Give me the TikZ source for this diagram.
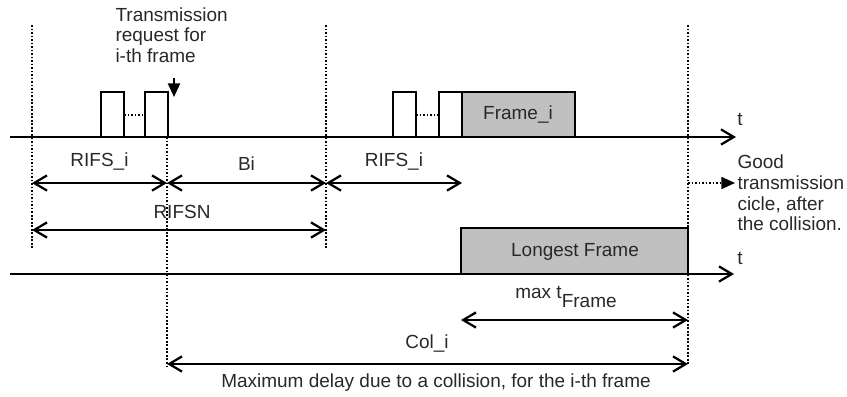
\documentclass[tikz,border=0pt]{standalone}
\usepackage{fontspec}
\setmainfont{Liberation Sans}
\usetikzlibrary{arrows.meta,positioning,calc}
\definecolor{boxgray}{RGB}{192,192,192}
\definecolor{ink}{RGB}{40,40,40}

\begin{document}
\begin{tikzpicture}[x=0.025cm,y=-0.025cm,line width=1.6pt,
  font=\fontsize{13.5}{14.6}\selectfont,
  barb/.tip={Straight Barb[length=3.2mm,width=3.8mm,line width=1.6pt]},
  dim/.style={barb-barb},
  axis/.style={-barb},
  guide/.style={line width=1.2pt,dash pattern=on 1.2pt off 1.3pt},
  lbl/.style={text=ink,inner sep=1pt}]
\useasboundingbox (0,0) rectangle (847,396);
% rows of the dimension arrows
\coordinate (r1) at (0,183);
\coordinate (r2) at (0,230);
\coordinate (r3) at (0,320);
\coordinate (r4) at (0,364);
% dotted guides
\foreach \n/\x/\top/\bot in {g1/32/25/248, g2/167/137/366, g3/326/25/248, g5/688/25/366} {
  \draw[guide] (\x,\top) coordinate (\n) -- (\x,\bot);
}
% first time line
\foreach \x in {101,145,393,439} \draw[fill=white] (\x,137) rectangle ++(23,-45);
\draw[guide] (124,115) -- (145,115);
\draw[guide] (416,115) -- (439,115);
\draw[fill=boxgray] (462,137) coordinate (fs) rectangle (575,92);
\node[lbl] (framei) at (518,115) {Frame\_i};
\draw[axis] (10,137) -- (736,137);
\node[lbl] (t1) at (740,119) {t};
\node[lbl,align=left,anchor=north west] (req) at (113,5) {Transmission\\request for\\i-th frame};
\coordinate (reqtop) at (174,78);
\coordinate (reqtip) at (174,97);
\draw[-{Triangle[length=3.4mm,width=3mm]}] (reqtop) -- (reqtip);
% dimensions of the first line
\draw[dim] (g1 |- r1) -- (g2 |- r1) node[lbl,midway,above=7pt] (rifs1) {RIFS\_i};
\draw[dim] (g2 |- r1) -- (g3 |- r1) node[lbl,midway,above=7pt] (bi) {Bi};
\draw[dim] (g3 |- r1) -- (fs |- r1) node[lbl,midway,above=7pt] (rifs2) {RIFS\_i};
\draw[dim] (g1 |- r2) -- (g3 |- r2);
\node[lbl] (rifsn) at (182,212) {RIFSN};
\node[lbl,align=left,anchor=west] (good) at (735,193) {Good\\transmission\\cicle, after\\the collision.};
\draw[guide,-{Triangle[length=3.4mm,width=3mm]}] (g5 |- r1) -- (good.west |- r1);
% second time line
\draw[fill=boxgray] (461,274) coordinate (ls) rectangle (688,228);
\node[lbl] (longest) at (575,252) {Longest Frame};
\draw[axis] (10,274) -- (734,274);
\node[lbl] (t2) at (740,258) {t};
\draw[dim] (ls |- r3) -- (g5 |- r3);
\node[lbl] (maxt) at (566,297) {max t\raisebox{-0.45em}{Frame}};
\draw[dim] (g2 |- r4) -- (g5 |- r4);
\node[lbl] (coli) at (427,344) {Col\_i};
\node[lbl] (cap) at (436,383) {Maximum delay due to a collision, for the i-th frame};
\end{tikzpicture}
\end{document}
